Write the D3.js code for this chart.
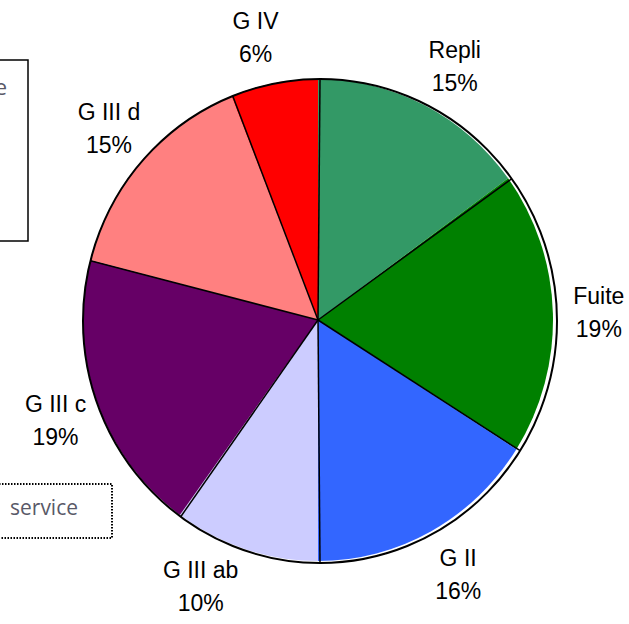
<!DOCTYPE html>
<html>
<head>
<meta charset="utf-8">
<script src="https://cdn.jsdelivr.net/npm/d3@7"></script>
<style>
  body { margin: 0; background: #fff; }
  svg { display: block; }
</style>
</head>
<body>
<div id="chart"></div>
<script>
// data
var categories = ["Repli", "Fuite", "G II", "G III ab", "G III c", "G III d", "G IV"];
var shares = [15, 19, 16, 10, 19, 15, 6];
var sliceColors = ["#339966", "#008000", "#3366FF", "#CCCCFF", "#660066", "#FF8080", "#FF0000"];

var W = 629, H = 624;
var svg = d3.select("#chart").append("svg").attr("width", W).attr("height", H);

// leftover boxes from the slide, cut by the frame
svg.append("rect").attr("x", -10).attr("y", 60).attr("width", 38).attr("height", 181)
  .attr("fill", "none").attr("stroke", "#000").attr("stroke-width", 1.5);
svg.append("text").attr("x", 7).attr("y", 95).attr("text-anchor", "end")
  .attr("font-family", "'Open Sans', sans-serif").attr("font-size", 22).attr("fill", "#595968").text("e");

svg.append("rect").attr("x", -10).attr("y", 484).attr("width", 122).attr("height", 54)
  .attr("fill", "none").attr("stroke", "#000").attr("stroke-width", 2).attr("stroke-dasharray", "1.5,1.5");
svg.append("text").attr("x", 10).attr("y", 515)
  .attr("font-family", "'Open Sans', sans-serif").attr("font-size", 21).attr("fill", "#595968").text("service");

var rows = categories.map(function(c, i) { return {name: c, value: shares[i], color: sliceColors[i]}; });
var pie = d3.pie().sort(null).value(function(d) { return d.value; });
var arcs = pie(rows);

// fill geometry and outline geometry (outline slightly offset, like the original)
var fx = 318, fy = 320, frx = 235, fry = 241;
var ox = 320, oy = 321, orx = 237, ory = 242;

var arc = d3.arc().innerRadius(0).outerRadius(fry);
var gFill = svg.append("g").attr("transform", "translate(" + fx + "," + fy + ") scale(" + (frx / fry) + ",1)");
gFill.selectAll("path").data(arcs).join("path")
  .attr("d", arc)
  .attr("fill", function(d) { return d.data.color; });

// radial separators
svg.append("g").selectAll("line").data(arcs).join("line")
  .attr("x1", fx).attr("y1", fy)
  .attr("x2", function(d) { return ox + orx * Math.sin(d.startAngle); })
  .attr("y2", function(d) { return oy - ory * Math.cos(d.startAngle); })
  .attr("stroke", "#000").attr("stroke-width", 1.5);

// outer outline
svg.append("ellipse").attr("cx", ox).attr("cy", oy).attr("rx", orx).attr("ry", ory)
  .attr("fill", "none").attr("stroke", "#000").attr("stroke-width", 2);

// labels
var nudge = [2, 0, -1, 7, 0, 0, -2.3]; // degrees, to follow the original placement
var lrx = 280, lry = 292;
var fmt = d3.format(".0%");
var total = d3.sum(shares);
var lab = svg.append("g")
  .attr("font-family", "'Liberation Sans', Arial, sans-serif")
  .attr("font-size", 23).attr("fill", "#000").attr("text-anchor", "middle");
arcs.forEach(function(d, i) {
  var a = (d.startAngle + d.endAngle) / 2 + nudge[i] * Math.PI / 180;
  var cx = 319 + lrx * Math.sin(a), cy = 320 - lry * Math.cos(a);
  var t = lab.append("text");
  t.append("tspan").attr("x", cx).attr("y", cy - 7).text(d.data.name);
  t.append("tspan").attr("x", cx).attr("y", cy + 26).text(fmt(d.data.value / total));
});
</script>
</body>
</html>
